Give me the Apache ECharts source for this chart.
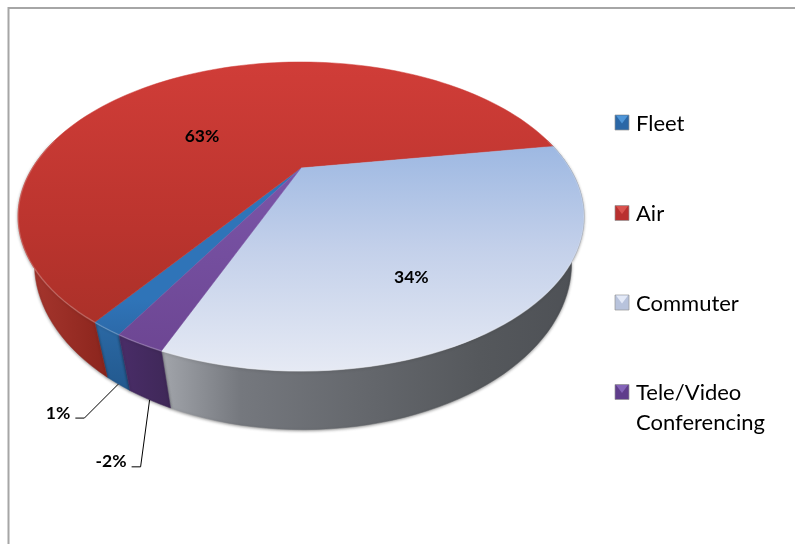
<!DOCTYPE html>
<html><head><meta charset="utf-8">
<style>html,body{margin:0;padding:0;background:#fff}#c{width:795px;height:544px}</style>
<script src="https://cdn.jsdelivr.net/npm/echarts@6/dist/echarts.min.js"></script>
</head><body><div id="c"></div>
<script>
var categories = ['Fleet', 'Air', 'Commuter', 'Tele/Video\nConferencing'];
var values = [1.45, 62.75, 33.6, 2.2];
var valueLabels = ['1%', '63%', '34%', '-2%'];

// layout of the tilted disc
var startAngle = 119.5;
var C = {x: 301, y: 168, a: 268.7, b: 139.3, f: 3.185};
var B = {x: 303, y: 211, a: 255, b: 150, f: 3.185};
function proj(P, deg, r) {
  var t = deg * Math.PI / 180, X = r * Math.cos(t), Y = r * Math.sin(t), s = P.f / (P.f - Y);
  return [P.x + P.a * X * s, P.y + P.b * Y * s];
}
function grad(x, y, x2, y2, stops) {
  return {type: 'linear', global: true, x: x, y: y, x2: x2, y2: y2,
    colorStops: stops.map(function (s) { return {offset: s[0], color: s[1]}; })};
}
var topFill = [
  grad(0, 300, 0, 345, [[0, '#2f74b8'], [1, '#2b66a4']]),
  grad(0, 62, 0, 340, [[0, '#d03d38'], [0.6, '#bb342e'], [1, '#a83028']]),
  grad(0, 146, 0, 372, [[0, '#9db8e2'], [0.45, '#c3d0ea'], [1, '#e6eaf4']]),
  grad(0, 170, 0, 352, [[0, '#7a55a8'], [1, '#6d4693']])
];
var wallFill = [
  grad(0, 330, 0, 385, [[0, '#2a67a2'], [1, '#235a90']]),
  grad(20, 0, 110, 0, [[0, '#a83830'], [0.5, '#9a2e26'], [1, '#8a241c']]),
  grad(165, 0, 585, 0, [[0, '#a0a3a9'], [0.18, '#75787e'], [0.5, '#63666b'], [0.75, '#55585c'], [1, '#4d5055']]),
  grad(125, 0, 170, 0, [[0, '#482c66'], [1, '#3f2858']])
];
var swatchBase = ['#2b67a6', '#b9302f', '#b8c3dc', '#5f3d8b'];
var swatchGloss = ['#4f96d8', '#d9524e', '#e4eaf8', '#8464b8'];
var legendY = [122.5, 213, 302.5, 392];

var total = values.reduce(function (a, b) { return a + b; }, 0);
var spans = [], acc = startAngle;
values.forEach(function (v) { var d = v / total * 360; spans.push([acc, acc + d]); acc += d; });

function arc(P, a0, a1, r) {
  var n = Math.max(2, Math.ceil(Math.abs(a1 - a0) / 2)), pts = [];
  for (var i = 0; i <= n; i++) pts.push(proj(P, a0 + (a1 - a0) * i / n, r === undefined ? 1 : r));
  return pts;
}
// visible front of the wall runs between these disc angles (mod 360)
var FRONT = [-12, 192];
function wallRange(s) {
  var out = [];
  [-360, 0, 360].forEach(function (k) {
    var a = Math.max(s[0] + k, FRONT[0]), b = Math.min(s[1] + k, FRONT[1]);
    if (b > a) out.push([a, b]);
  });
  return out;
}

function renderWalls(params, api) {
  var i = api.value(0), kids = [];
  wallRange(spans[i]).forEach(function (r) {
    var pts = arc(C, r[0], r[1]).concat(arc(B, r[1], r[0]));
    kids.push({type: 'polygon', shape: {points: pts},
      style: {fill: wallFill[i], stroke: wallFill[i], lineWidth: 0.5, shadowBlur: 3, shadowColor: 'rgba(0,0,0,0.4)', shadowOffsetY: 1}});
  });
  return {type: 'group', children: kids};
}
function renderTop(params, api) {
  var i = api.value(0), s = spans[i];
  var pts = [[C.x, C.y]].concat(arc(C, s[0], s[1]));
  var kids = [{type: 'polygon', shape: {points: pts}, style: {fill: topFill[i], stroke: topFill[i], lineWidth: 0.5}}];
  wallRange(s).forEach(function (r) {
    kids.push({type: 'polyline', shape: {points: arc(C, r[0], r[1])},
      style: {fill: null, stroke: 'rgba(255,255,255,0.2)', lineWidth: 1.5}});
  });
  return {type: 'group', children: kids};
}
// label placement relative to the slice: disc angle shift + radius, or leader offsets from the lower rim
var inside = {1: {shift: -25.4, r: 0.47}, 2: {shift: 11, r: 0.706}};
var leader = {0: [[-34, 34], [-43, 34]], 3: [[-9, 67], [-18, 67]]};
function renderLabels(params, api) {
  var i = api.value(0), s = spans[i], mid = (s[0] + s[1]) / 2, kids = [];
  var font = {fontFamily: 'Lato, Carlito, sans-serif', fontWeight: 'bold', fontSize: 17.5, fill: '#000'};
  if (inside[i]) {
    var p = proj(C, mid + inside[i].shift, inside[i].r);
    kids.push({type: 'text', style: Object.assign({x: p[0], y: p[1] + 1, text: valueLabels[i], align: 'center', verticalAlign: 'middle'}, font)});
  } else {
    var a = proj(B, mid, 1), l = leader[i];
    var e1 = [a[0] + l[0][0], a[1] + l[0][1]], e2 = [a[0] + l[1][0], a[1] + l[1][1]];
    kids.push({type: 'polyline', shape: {points: [a, e1, e2]}, style: {fill: null, stroke: '#000', lineWidth: 1}});
    kids.push({type: 'text', style: Object.assign({x: e2[0] - 5, y: e2[1] - 5, text: valueLabels[i], align: 'right', verticalAlign: 'middle'}, font)});
  }
  return {type: 'group', children: kids};
}
function renderLegend(params, api) {
  var i = api.value(0), y = legendY[i], x = 615, w = 14, h = 15;
  return {type: 'group', children: [
    {type: 'rect', shape: {x: x, y: y - 7.5, width: w, height: h},
      style: {fill: swatchBase[i], stroke: 'rgba(150,150,150,0.7)', lineWidth: 1}},
    {type: 'polygon', shape: {points: [[x + 1, y - 7], [x + w - 1, y - 7], [x + w / 2, y + 1]]},
      style: {fill: swatchGloss[i]}},
    {type: 'text', style: {x: 636, y: y - 14, text: categories[i], align: 'left', verticalAlign: 'top',
      fontFamily: 'Lato, Carlito, sans-serif', fontSize: 22, lineHeight: 30, fill: '#000'}}
  ]};
}
var idx = categories.map(function (c, i) { return [i]; });
function layer(render, z, name) {
  return {type: 'custom', name: name, coordinateSystem: 'none', silent: true, animation: false, z: z, renderItem: render, data: idx, clip: false};
}
var chart = echarts.init(document.getElementById('c'), null, {renderer: 'canvas'});
chart.setOption({
  animation: false,
  backgroundColor: '#ffffff',
  graphic: [
    {type: 'polyline', silent: true, shape: {points: [[8.5, 544], [8.5, 8], [795, 8]]},
     style: {fill: null, stroke: '#a6a6a6', lineWidth: 2}}
  ],
  series: [
    layer(renderWalls, 1, 'walls'),
    layer(renderTop, 2, 'top'),
    layer(renderLabels, 3, 'labels'),
    layer(renderLegend, 3, 'legend')
  ]
});
</script></body></html>
